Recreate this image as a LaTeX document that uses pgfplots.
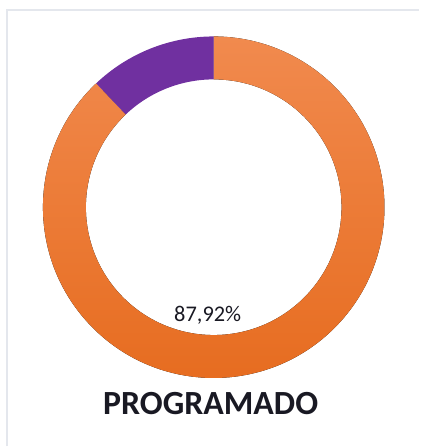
\documentclass[border=0pt]{standalone}
\usepackage{pgfplots}
\pgfplotsset{compat=1.18}
\usepackage{pgfplotstable}
\usepackage{fontspec}
\setmainfont{Carlito}
\definecolor{oTop}{RGB}{241,138,78}
\definecolor{oMid}{RGB}{244,128,42}
\definecolor{oBot}{RGB}{230,107,30}
\definecolor{purp}{RGB}{112,48,160}
\definecolor{framegray}{RGB}{228,231,237}
\definecolor{txt}{RGB}{25,25,35}
\pgfplotstableread{
name value
Programado 87.92
Restante 12.08
}\datatable
\begin{document}
\begin{tikzpicture}
\pgfplotstablegetelem{1}{value}\of\datatable
\let\vB\pgfplotsretval
\pgfmathsetmacro\angB{90+3.6*\vB}
\begin{axis}[width=420bp,height=447bp,scale only axis,
  xmin=0,xmax=420,ymin=0,ymax=447,hide axis,clip=false]
\path (axis cs:0,0) (axis cs:420,447);
\draw[framegray,line width=1.2bp] (axis cs:7,0) -- (axis cs:7,437) -- (axis cs:420,437);
% orange segment
\fill[top color=oTop,middle color=oMid,bottom color=oBot]
  ([shift={(\angB:171bp)}]axis cs:214,239.5) arc[start angle=\angB,end angle=450,radius=171bp]
  -- ([shift={(450:128bp)}]axis cs:214,239.5) arc[start angle=450,end angle=\angB,radius=128bp] -- cycle;
% purple segment
\fill[purp]
  ([shift={(90:171bp)}]axis cs:214,239.5) arc[start angle=90,end angle=\angB,radius=171bp]
  -- ([shift={(\angB:128bp)}]axis cs:214,239.5) arc[start angle=\angB,end angle=90,radius=128bp] -- cycle;
\node[text=txt,font=\fontsize{22.5}{26}\selectfont] at (axis cs:208,131) {87,92\%};
\node[text=txt,font=\bfseries\fontsize{34}{40}\selectfont] at (axis cs:211,43) {PROGRAMADO};
\end{axis}
\end{tikzpicture}
\end{document}
